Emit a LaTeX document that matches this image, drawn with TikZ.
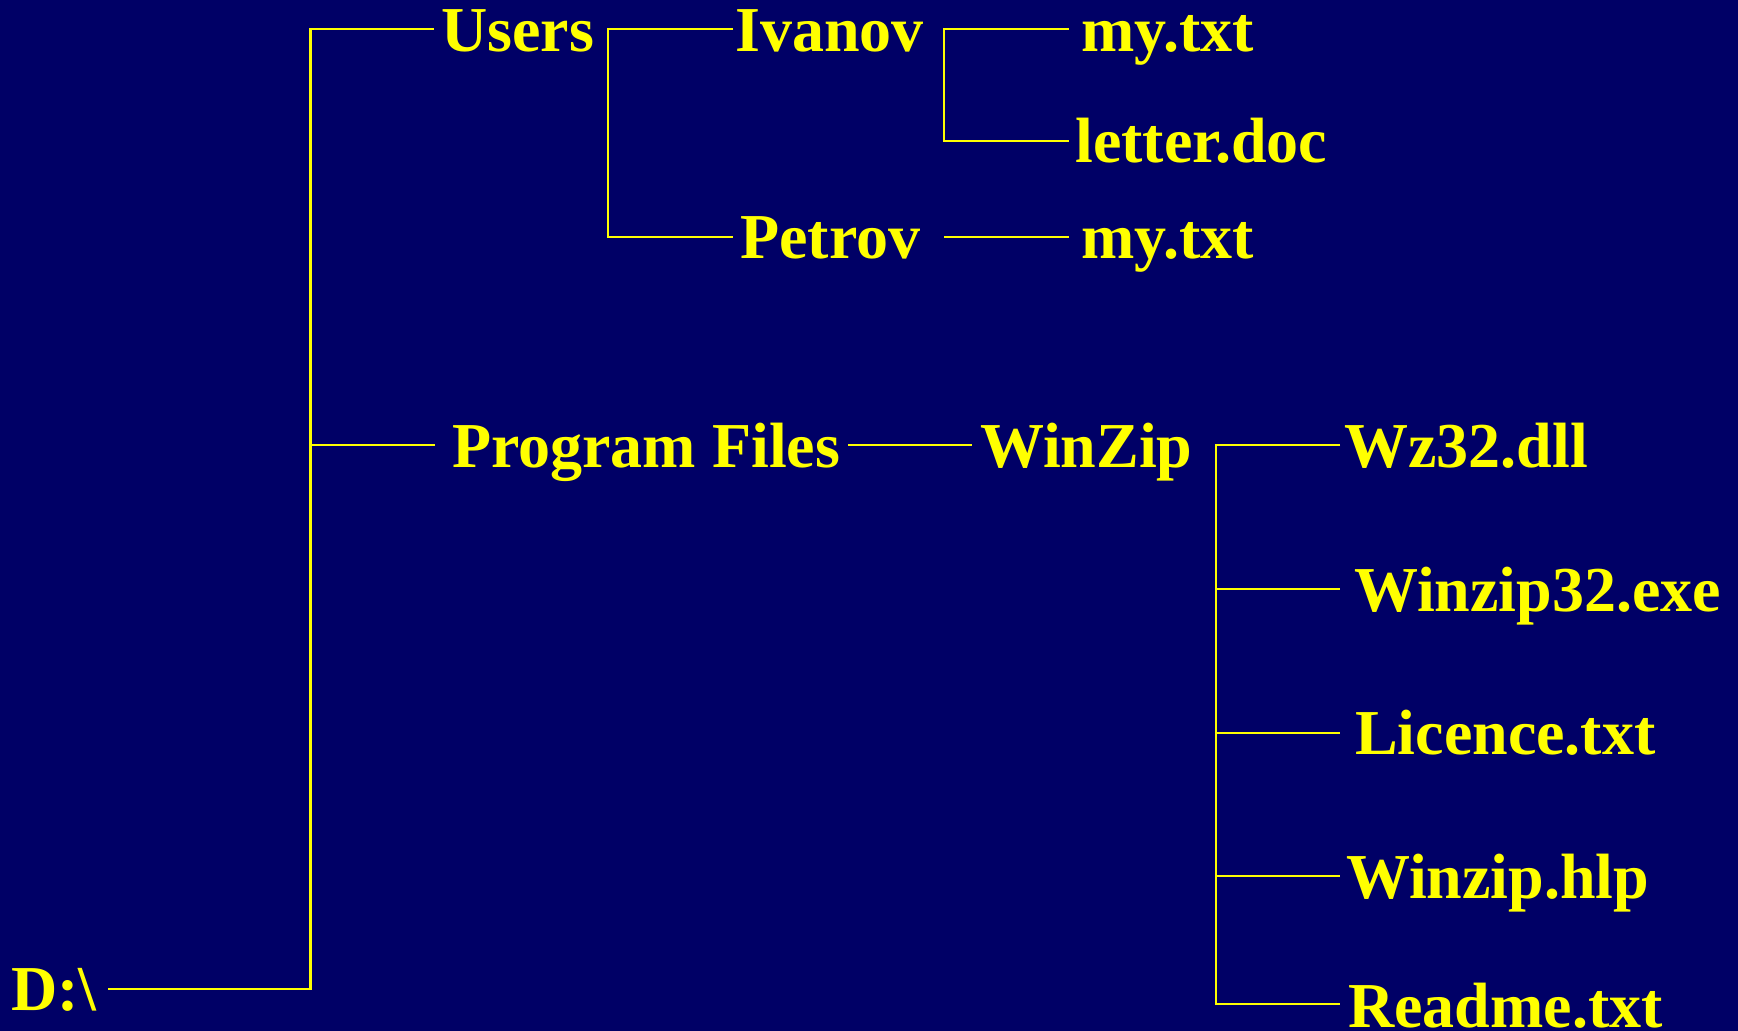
\documentclass[tikz,border=0pt]{standalone}
\usepackage{fontspec}
\setmainfont{Liberation Serif}
\definecolor{bgnavy}{RGB}{0,0,102}
\definecolor{fgyellow}{RGB}{255,255,0}
\begin{document}
\begin{tikzpicture}[x=1pt,y=-1pt,
  lbl/.style={anchor=base west, inner sep=0pt, text=fgyellow,
    font=\fontsize{64}{68}\selectfont\bfseries},
  wire/.style={draw=fgyellow, line width=2.5pt, line join=miter}]
\fill[bgnavy] (0,0) rectangle (1738,1031);
\useasboundingbox (0,0) rectangle (1738,1031);
% nodes
\node[lbl] (root)    at (11,1010)  {D:\textbackslash};
\node[lbl] (users)   at (441,51)   {Users};
\node[lbl] (ivanov)  at (735,51)   {Ivanov};
\node[lbl] (petrov)  at (740,258)  {Petrov};
\node[lbl] (myA)     at (1081,51)  {my.txt};
\node[lbl] (letter)  at (1075,162) {letter.doc};
\node[lbl] (myB)     at (1081,258) {my.txt};
\node[lbl] (pf)      at (452,467)  {Program Files};
\node[lbl] (winzip)  at (980,467)  {WinZip};
\node[lbl] (wzdll)   at (1344,467) {Wz32.dll};
\node[lbl] (wzexe)   at (1354,611) {Winzip32.exe};
\node[lbl] (lic)     at (1355,754) {Licence.txt};
\node[lbl] (hlp)     at (1346,898) {Winzip.hlp};
\node[lbl] (readme)  at (1348,1027){Readme.txt};
% connector end points
\coordinate (rootOut)   at (108,989);
\coordinate (busA)      at (310.5,989);
\coordinate (usersIn)   at (434,29);
\coordinate (pfIn)      at (434.6,445);
\coordinate (usersOut)  at (608,29);
\coordinate (ivanovIn)  at (733,29);
\coordinate (petrovIn)  at (733,237);
\coordinate (ivanovOut) at (944,29);
\coordinate (myAIn)     at (1068.6,29);
\coordinate (letterIn)  at (1068.6,141);
\coordinate (petrovOut) at (944,237);
\coordinate (myBIn)     at (1068.6,237);
\coordinate (pfOut)     at (848,445);
\coordinate (winzipIn)  at (972,445);
\coordinate (winzipOut) at (1216,445);
\coordinate (wzdllIn)   at (1340,445);
\coordinate (wzexeIn)   at (1340,589);
\coordinate (licIn)     at (1340,733);
\coordinate (hlpIn)     at (1340,876);
\coordinate (readmeIn)  at (1340,1004);
% connectors
\draw[wire] (rootOut) -- (busA) |- (usersIn);
\draw[wire] (busA |- pfIn) -- (pfIn);
\draw[wire] (ivanovIn) -| (usersOut) |- (petrovIn);
\draw[wire] (myAIn) -| (ivanovOut) |- (letterIn);
\draw[wire] (petrovOut) -- (myBIn);
\draw[wire] (pfOut) -- (winzipIn);
\draw[wire] (wzdllIn) -| (winzipOut) |- (readmeIn);
\draw[wire] (winzipOut |- wzexeIn) -- (wzexeIn);
\draw[wire] (winzipOut |- licIn) -- (licIn);
\draw[wire] (winzipOut |- hlpIn) -- (hlpIn);
\end{tikzpicture}
\end{document}
